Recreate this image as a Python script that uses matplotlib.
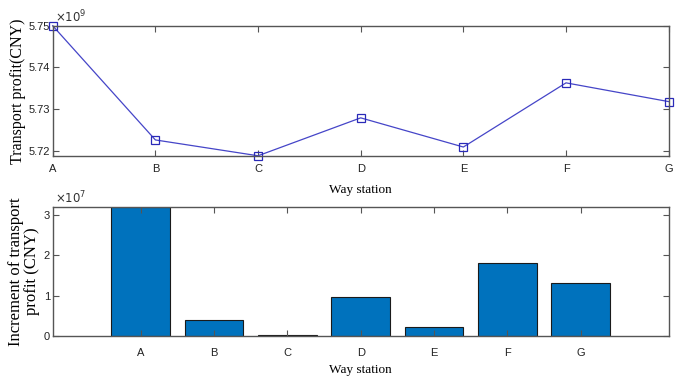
import numpy as np
import matplotlib
matplotlib.use("Agg")
import matplotlib.pyplot as plt

# 数据
stations = ["A", "B", "C", "D", "E", "F", "G"]
profit = [5.7500e9, 5.7226e9, 5.7188e9, 5.7279e9, 5.7209e9, 5.7363e9, 5.7318e9]
increment = [3.20e7, 0.39e7, 0.02e7, 0.96e7, 0.22e7, 1.81e7, 1.32e7]

tick_font = ["Liberation Sans Narrow", "Liberation Sans", "DejaVu Sans"]
label_font = ["Liberation Serif", "DejaVu Serif"]
spine_col = "#555555"

fig = plt.figure(figsize=(6.81, 3.79), dpi=100)

def style_axes(ax):
    for s in ax.spines.values():
        s.set_color(spine_col)
        s.set_linewidth(1.0)
    ax.tick_params(direction="in", top=True, right=True, length=4,
                   color=spine_col, labelsize=8, labelcolor="#222222")
    ax.tick_params(axis="x", pad=6)
    ax.tick_params(axis="y", pad=2)
    for lab in ax.get_xticklabels() + ax.get_yticklabels():
        lab.set_fontfamily(tick_font)

# 上图：运输利润折线
ax1 = fig.add_axes([0.0774, 0.589, 0.9045, 0.343])
x = np.arange(len(stations))
ax1.plot(x, np.array(profit) / 1e9, color="#4545c8", lw=0.9, marker="s",
         ms=6, mfc="none", mec="#2a2ab8", mew=0.9, clip_on=False)
ax1.set_xlim(0, len(stations) - 1)
ax1.set_ylim(5.7188, 5.7500)
ax1.set_xticks(x)
ax1.set_xticklabels(stations)
ax1.set_yticks([5.72, 5.73, 5.74, 5.75])
ax1.set_yticklabels(["5.72", "5.73", "5.74", "5.75"])
style_axes(ax1)
ax1.set_xlabel("Way station", family=label_font, fontsize=9.5, labelpad=7)
ax1.set_ylabel("Transport profit(CNY)", family=label_font, fontsize=11.5)
ax1.yaxis.set_label_coords(-0.044, 0.5)
ax1.text(0.003, 1.0, r"$\times 10^{9}$", transform=ax1.transAxes,
         fontsize=8.5, family=tick_font, color="#333333", va="bottom", ha="left")

# 下图：运输利润增量柱状图
ax2 = fig.add_axes([0.0774, 0.1135, 0.9045, 0.341])
pos = np.arange(1, len(stations) + 1)
ax2.bar(pos, np.array(increment) / 1e7, width=0.8, color="#0072BD",
        edgecolor="#1a1a1a", linewidth=0.8)
ax2.set_xlim(-0.2, len(stations) + 1.2)
ax2.set_ylim(0, 3.21)
ax2.set_xticks(pos)
ax2.set_xticklabels(stations)
ax2.set_yticks([0, 1, 2, 3])
style_axes(ax2)
ax2.tick_params(axis="x", pad=9)
ax2.set_xlabel("Way station", family=label_font, fontsize=9.5, labelpad=4)
ax2.set_ylabel("Increment of transport\nprofit (CNY)", family=label_font,
               fontsize=12, linespacing=1.0)
ax2.yaxis.set_label_coords(-0.021, 0.5)
ax2.text(0.003, 1.0, r"$\times 10^{7}$", transform=ax2.transAxes,
         fontsize=8.5, family=tick_font, color="#333333", va="bottom", ha="left")

fig.savefig("out.png", dpi=100)
